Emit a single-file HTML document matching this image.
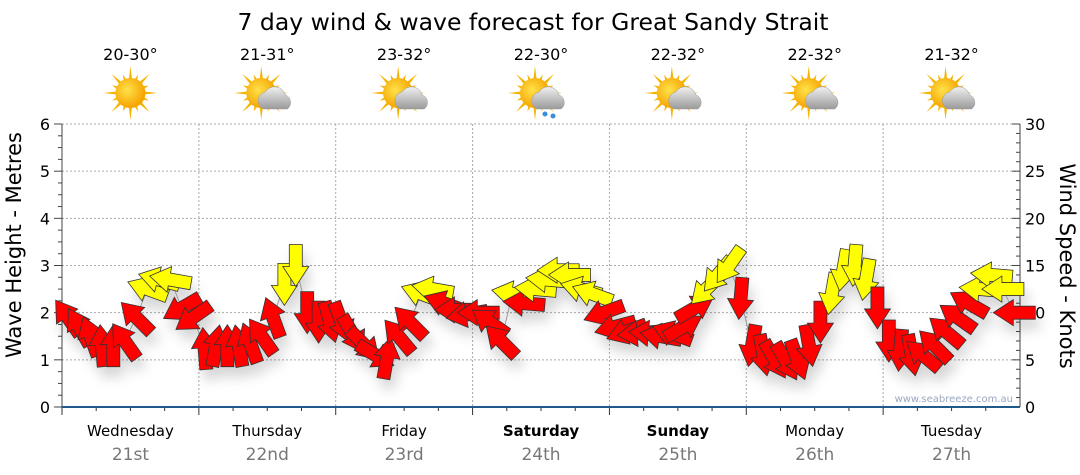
<!DOCTYPE html>
<html><head><meta charset="utf-8"><style>
body{margin:0;background:#fff;font-family:"DejaVu Sans","Liberation Sans",sans-serif;}
svg{display:block}
</style></head><body>
<svg id="c" width="1080" height="475" xmlns="http://www.w3.org/2000/svg">
<defs>
<radialGradient id="sun" cx="40%" cy="40%" r="60%"><stop offset="0" stop-color="#ffe24a"/><stop offset="1" stop-color="#f5a300"/></radialGradient>
<linearGradient id="cloud" x1="0" y1="0" x2="0" y2="1"><stop offset="0" stop-color="#f0f0f0"/><stop offset="1" stop-color="#9a9a9a"/></linearGradient>
<filter id="sh" x="-50%" y="-50%" width="200%" height="200%"><feDropShadow dx="4" dy="10" stdDeviation="6" flood-color="#000" flood-opacity="0.16"/></filter>
</defs>
<text x="533" y="30" font-size="23.5" text-anchor="middle" fill="#000">7 day wind &amp; wave forecast for Great Sandy Strait</text>
<g id="grid"></g><g id="axes"></g><g id="icons"></g><g id="marks" filter="url(#sh)"></g>
<text x="1013" y="402" font-size="10" text-anchor="end" fill="#9aa6c0">www.seabreeze.com.au</text>
<text transform="translate(21,245) rotate(-90)" font-size="21" text-anchor="middle">Wave Height - Metres</text>
<text transform="translate(1060,266) rotate(90)" font-size="21" text-anchor="middle">Wind Speed - Knots</text>
</svg>
<script>
const days=["Wednesday","Thursday","Friday","Saturday","Sunday","Monday","Tuesday"];
const dates=["21st","22nd","23rd","24th","25th","26th","27th"];
const temps=["20-30°","21-31°","23-32°","22-30°","22-32°","22-32°","21-32°"];
const icons=["sun","part","part","rain","part","part","part"];
const waveTicks=[0,1,2,3,4,5,6];
const windTicks=[0,5,10,15,20,25,30];
const windSpeed=[
 9.5,8.5,7.5,6.5,6.5,7,9.5,12.5,13.5,13.5,10.5,9.5,
 6.2,6.5,6.5,6.5,6.8,7.5,9.5,13,15,10,9,9,
 9,7.7,6.6,5.5,5.2,7.5,9,12,12.5,11,10.3,9.8,
 10,9,7,12,11,12.5,13.5,14.5,14,12.5,12,10,
 8.5,8,7.8,7.8,7.5,7.8,8.5,10.5,12.5,14,15,11.5,
 6.5,5.5,5,4.8,5,6.5,9,12,14.5,15,13.5,10.5,
 7,6,5.5,5.5,6.5,8,9.5,11,12.5,14,12.5,10];
const windDir=[
 235,240,250,265,270,235,225,200,195,190,150,145,
 265,280,270,260,250,235,250,90,90,90,90,75,
 70,60,45,30,280,230,225,200,190,200,180,170,
 180,215,225,190,185,185,185,180,180,195,200,160,
 165,160,175,185,190,200,330,330,135,130,125,95,
 100,80,60,60,70,80,90,100,100,95,100,90,
 90,95,80,220,225,220,215,210,185,185,180,180];
const NS="http://www.w3.org/2000/svg";
const X0=62,X1=1020,Y0=407,Y1=124,PER=12;
const dayW=(X1-X0)/7;
const yW=m=>Y0-(m/6)*(Y0-Y1);
const yK=k=>Y0-(k/30)*(Y0-Y1);
const xI=i=>X0+dayW*(i/PER)+dayW/(2*PER);
function el(t,a,p){const e=document.createElementNS(NS,t);for(const k in a)e.setAttribute(k,a[k]);p.appendChild(e);return e;}
const grid=document.getElementById('grid'),axes=document.getElementById('axes'),ic=document.getElementById('icons'),marks=document.getElementById('marks');
waveTicks.forEach(m=>{
 if(m>0){const g=el('line',{x1:X0,x2:X1,y1:yW(m),y2:yW(m),stroke:'#aaa','stroke-dasharray':'2,2'},grid);
 }
 const t=el('text',{x:50,y:yW(m)+6,'font-size':16,'text-anchor':'end'},axes);t.textContent=m;
 
});
for(let q=0;q<=24;q++){const y=Y0-q*(Y0-Y1)/24;el('line',{x1:X0-(q%4?4:8),x2:X0,y1:y,y2:y,stroke:'#444'},axes);}
for(let q=0;q<=30;q++){const y=yK(q);el('line',{x1:X1-(q%5?4:8),x2:X1,y1:y,y2:y,stroke:'#444'},axes);}
windTicks.forEach(k=>{const t=el('text',{x:1025,y:yK(k)+6,'font-size':16},axes);t.textContent=k;
 });
el('line',{x1:X0,x2:X0,y1:Y1,y2:Y0,stroke:'#444'},axes);
el('line',{x1:X1,x2:X1,y1:Y1,y2:Y0,stroke:'#444'},axes);
for(let d=0;d<7;d++){
 const xs=X0+d*dayW,xc=xs+dayW/2;
 if(d>0){const v=el('line',{x1:xs,x2:xs,y1:Y1,y2:Y0,stroke:'#aaa','stroke-dasharray':'2,2'},grid);
 }
 for(let q=0;q<4;q++){const x=xs+q*dayW/4;el('line',{x1:x,x2:x,y1:Y0,y2:Y0+(q?4:8),stroke:'#333'},axes);}
 const n=el('text',{x:xc,y:436,'font-size':15,'text-anchor':'middle','font-weight':(d==3||d==4)?'bold':'normal'},axes);n.textContent=days[d];
 
 const dt=el('text',{x:xc,y:460,'font-size':17,'text-anchor':'middle',fill:'#777'},axes);dt.textContent=dates[d];
 
 const tt=el('text',{x:xc,y:60,'font-size':16,'text-anchor':'middle'},ic);tt.textContent=temps[d];
 
 const g=el('g',{transform:`translate(${xc},95)`},ic);
 
 const sx=icons[d]=="sun"?0:-6;
 for(let r=0;r<16;r++){const a=r*Math.PI/8,L=r%2?20:27;el('polygon',{points:`${sx+Math.cos(a-0.13)*13},${Math.sin(a-0.13)*13-2} ${sx+Math.cos(a)*L},${Math.sin(a)*L-2} ${sx+Math.cos(a+0.13)*13},${Math.sin(a+0.13)*13-2}`,fill:'#f6b400'},g);}
 el('circle',{cx:sx,cy:-2,r:15,fill:'url(#sun)'},g);
 if(icons[d]!="sun"){el('path',{d:'M-4,14 a9,9 0 0 1 2,-17 a11,11 0 0 1 20,3 a8,8 0 0 1 2,14 z',fill:'url(#cloud)',stroke:'#999','stroke-width':0.5},g);}
 if(icons[d]=="rain"){el('circle',{cx:4,cy:19,r:2.5,fill:'#3a8fd8'},g);el('circle',{cx:12,cy:21,r:2.5,fill:'#3a8fd8'},g);}
}
el('line',{x1:X0,x2:X1,y1:Y0,y2:Y0,stroke:'#1f5a8a','stroke-width':2},axes);
const pts=windSpeed.map((k,i)=>xI(i)+','+yK(k)).join(' ');
el('polyline',{points:pts,fill:'none',stroke:'#999','stroke-width':1},marks);
windSpeed.forEach((k,i)=>{
 const a=el('polygon',{points:'-21,-6.5 1,-6.5 1,-13 21,0 1,13 1,6.5 -21,6.5',transform:`translate(${xI(i)},${yK(k)}) rotate(${windDir[i]})`,fill:k>=12?'#ffff00':'#ff0000',stroke:'#333','stroke-width':0.8},marks);
 
 
});
</script>
</body></html>
